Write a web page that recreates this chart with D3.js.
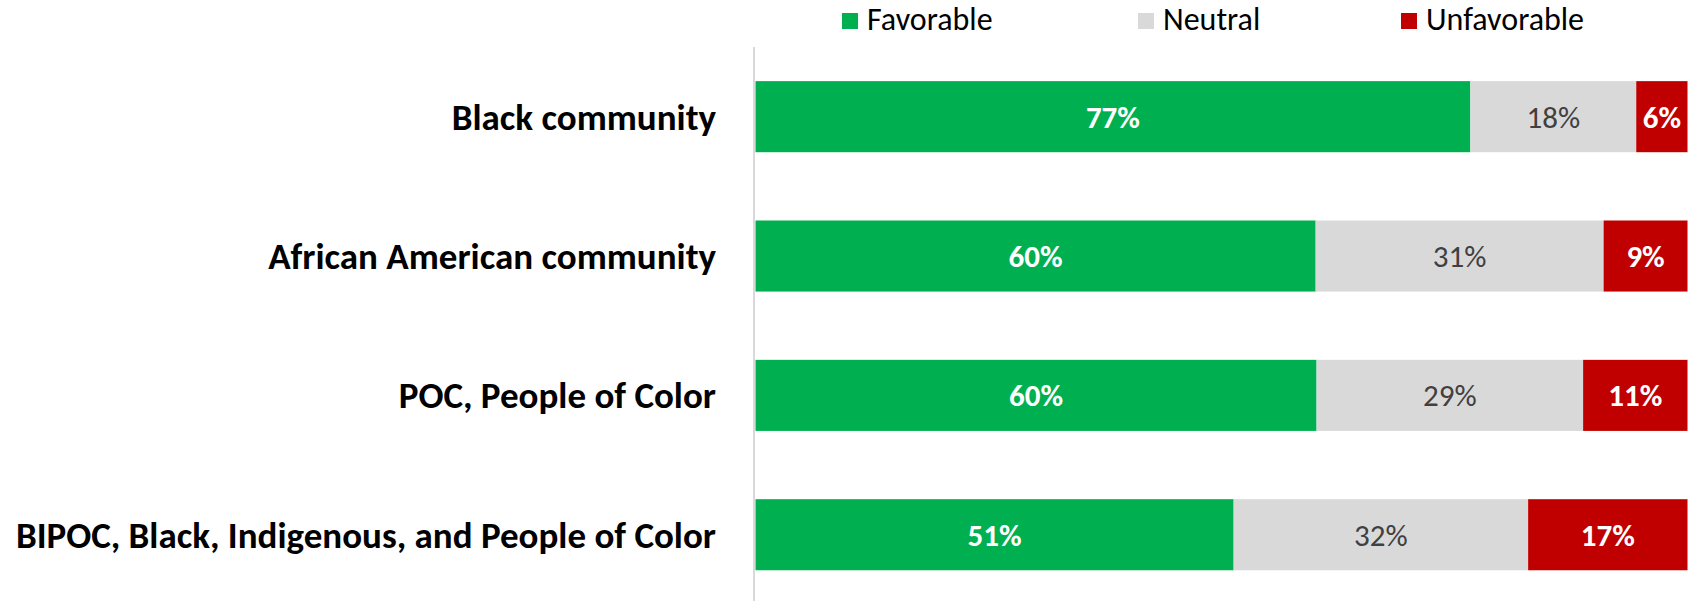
<!DOCTYPE html>
<html>
<head>
<meta charset="utf-8">
<script src="https://cdn.jsdelivr.net/npm/d3@7/dist/d3.min.js"></script>
<style>
  html, body { margin: 0; padding: 0; background: #fff; }
  svg { display: block; }
  text { font-family: Carlito, Calibri, Lato, "Open Sans", sans-serif; }
</style>
</head>
<body>
<svg id="chart" width="1690" height="601"></svg>
<script>
// ---- data ----
const categories = [
  "Black community",
  "African American community",
  "POC, People of Color",
  "BIPOC, Black, Indigenous, and People of Color"
];
const seriesNames = ["Favorable", "Neutral", "Unfavorable"];
const favorable   = [76.7, 60.1, 60.2, 51.3];
const neutral     = [17.8, 30.9, 28.6, 31.6];
const unfavorable = [ 5.5,  9.0, 11.2, 17.1];
const seriesColors = ["#00B050", "#D9D9D9", "#C00000"];
const labelColors  = ["#FFFFFF", "#404040", "#FFFFFF"];
const labelWeights = ["bold", "normal", "bold"];

const rows = categories.map((c, i) => ({
  category: c,
  Favorable: favorable[i],
  Neutral: neutral[i],
  Unfavorable: unfavorable[i]
}));

const svg = d3.select("#chart");
const W = 1690, H = 601;

const x = d3.scaleLinear().domain([0, 100]).range([755.5, 1687.5]);
const y = d3.scaleBand().domain(categories).range([47, 604.4])
  .paddingInner(0.49).paddingOuter(0.245);

const stack = d3.stack().keys(seriesNames);
const stacked = stack(rows);

// axis line
svg.append("line")
  .attr("x1", 754).attr("x2", 754)
  .attr("y1", 47).attr("y2", H)
  .attr("stroke", "#D9D9D9").attr("stroke-width", 2);

const groups = svg.selectAll("g.series").data(stacked).join("g")
  .attr("class", "series");

groups.selectAll("rect").data((d, si) => d.map(v => ({v, si}))).join("rect")
  .attr("x", d => x(d.v[0]))
  .attr("width", d => x(d.v[1]) - x(d.v[0]))
  .attr("y", d => y(d.v.data.category))
  .attr("height", y.bandwidth())
  .attr("fill", d => seriesColors[d.si]);

groups.selectAll("text").data((d, si) => d.map(v => ({v, si, key: seriesNames[si]}))).join("text")
  .attr("x", d => (x(d.v[0]) + x(d.v[1])) / 2)
  .attr("y", d => y(d.v.data.category) + y.bandwidth() / 2)
  .attr("text-anchor", "middle")
  .attr("dominant-baseline", "central")
  .attr("font-size", 31)
  .attr("font-weight", d => labelWeights[d.si])
  .attr("fill", d => labelColors[d.si])
  .text(d => Math.round(d.v.data[d.key]) + "%");

// category labels
const yAxis = d3.axisLeft(y).tickSize(0).tickPadding(0);
const ax = svg.append("g").attr("transform", "translate(716,0)").call(yAxis);
ax.select(".domain").remove();
ax.selectAll("text")
  .attr("font-size", 37)
  .attr("font-weight", "bold")
  .attr("fill", "#000")
  .attr("font-family", "Carlito, Calibri, Lato, sans-serif")
  .attr("dy", "0.35em");

// legend
const legendX = [842, 1138, 1401];
const lg = svg.append("g").selectAll("g").data(seriesNames).join("g")
  .attr("transform", (d, i) => `translate(${legendX[i]},0)`);
lg.append("rect").attr("x", 0).attr("y", 13).attr("width", 16).attr("height", 16)
  .attr("fill", (d, i) => seriesColors[i]);
lg.append("text").attr("x", 25).attr("y", 19)
  .attr("dominant-baseline", "central")
  .attr("font-size", 32)
  .attr("fill", "#000")
  .text(d => d);
</script>
</body>
</html>
